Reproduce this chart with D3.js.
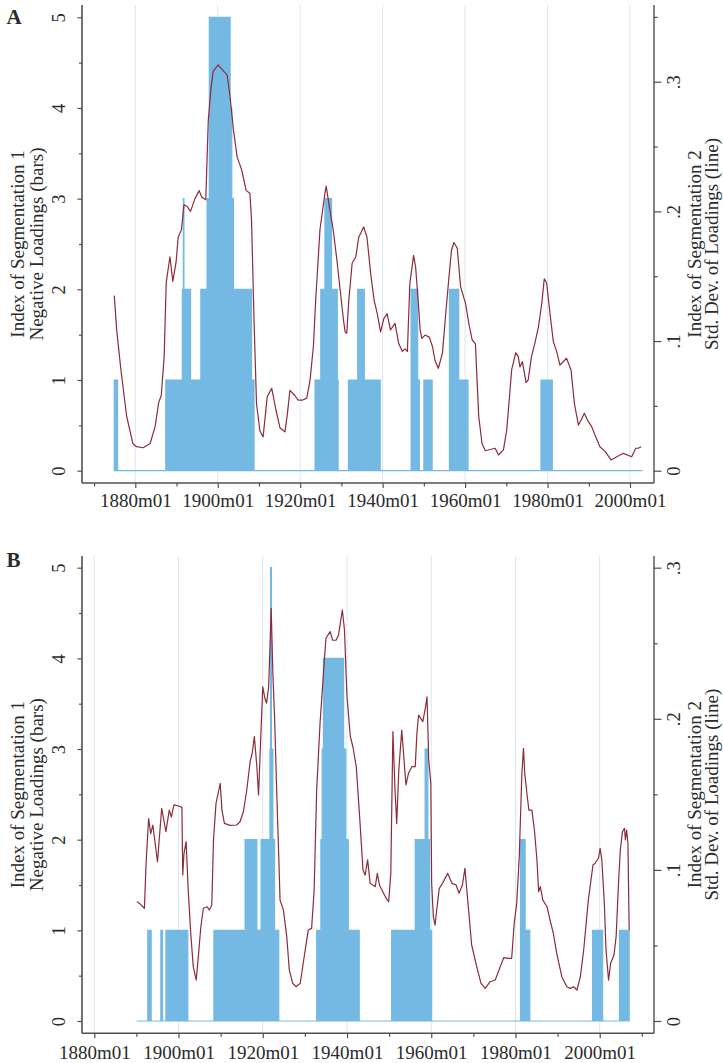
<!DOCTYPE html>
<html>
<head>
<meta charset="utf-8">
<script src="https://cdn.jsdelivr.net/npm/d3@7"></script>
<style>
  body { margin: 0; background: #fff; }
  svg { display: block; }
  text { font-family: "Liberation Serif", "Times New Roman", serif; fill: #2b2b2b; }
</style>
</head>
<body>
<svg id="viz" width="723" height="1063"></svg>
<script>
// ---- data (decimal years) ----
var majorYears = [1880, 1900, 1920, 1940, 1960, 1980, 2000];
var minorYearsA = [1870, 1890, 1910, 1930, 1950, 1970, 1990];
var minorYearsB = [1890, 1910, 1930, 1950, 1970, 1990, 2010];
var leftTicks = [0, 1, 2, 3, 4, 5];
var leftMinor = [0.5, 1.5, 2.5, 3.5, 4.5];
var rightTicksA = [0, 0.1, 0.2, 0.3];
var rightMinorA = [0.05, 0.15, 0.25, 0.35];
var rightTicksB = [0, 0.1, 0.2, 0.3];
var rightMinorB = [0.05, 0.15, 0.25];

// bars: step starts and the index value held from that point on (last entry = end of series)
var barsATimes = [1874.9, 1875.7, 1887.4, 1891.4, 1891.65, 1891.8, 1893.4, 1895.9, 1897.4, 1897.95, 1903.0, 1903.4, 1903.8, 1908.2, 1908.8,
  1923.6, 1925.0, 1926.0, 1927.6, 1929.0, 1929.2, 1931.7, 1933.95, 1935.55, 1939.4, 1946.9, 1948.5, 1948.9, 1950.0, 1952.0,
  1956.2, 1958.45, 1960.7, 1978.4, 1981.15, 2003.0];
var barsAValues = [1, 0, 1, 2, 3, 2, 1, 2, 3, 5, 4, 3, 2, 1, 0,
  1, 2, 3, 2, 1, 0, 1, 2, 1, 0, 2, 1, 0, 1, 0,
  2, 1, 0, 1, 0, 0];

var barsBTimes = [1890.1, 1892.7, 1893.5, 1895.8, 1896.2, 1897.0, 1902.2, 1908.4, 1915.8, 1918.6, 1919.6, 1921.7, 1921.85, 1922.05, 1922.4, 1922.8, 1923.8,
  1932.8, 1933.8, 1934.1, 1934.4, 1939.2, 1939.7, 1940.3, 1942.9, 1950.6, 1956.2, 1958.55, 1959.2, 1959.6, 1960.1,
  1981.2, 1982.3, 1983.4, 1998.3, 2000.7, 2004.7, 2007.0];
var barsBValues = [0, 1, 0, 1, 0, 1, 0, 1, 2, 1, 2, 3, 5, 3, 2, 1, 0,
  1, 2, 3, 4, 3, 2, 1, 0, 1, 2, 3, 2, 1, 0,
  2, 1, 0, 1, 0, 1, 0];

// line: std. dev. of loadings
var lineA = [[1874.9,.135],[1875.5,.108],[1876.5,.078],[1877.9,.042],[1879.4,.021],[1880.3,.0185],[1881.9,.0177],[1883.6,.021],
  [1884.8,.034],[1885.7,.053],[1886.3,.058],[1887.0,.088],[1887.5,.145],[1888.4,.165],[1889.1,.146],[1889.9,.161],[1890.4,.180],
  [1891.2,.186],[1891.8,.205],[1892.5,.204],[1893.4,.200],[1894.5,.210],[1895.5,.216],[1896.1,.211],[1897.1,.209],[1897.7,.270],
  [1898.4,.296],[1898.9,.308],[1900.1,.313],[1901.2,.309],[1902.3,.305],[1903.0,.288],[1903.8,.263],[1904.7,.242],[1905.8,.232],
  [1906.9,.216],[1907.8,.214],[1908.2,.193],[1908.8,.116],[1909.4,.052],[1910.2,.031],[1911.0,.026],[1912.0,.057],[1913.1,.0635],
  [1914.1,.047],[1915.1,.033],[1916.3,.030],[1916.9,.044],[1917.5,.062],[1918.7,.058],[1919.5,.0545],[1920.6,.0545],[1921.6,.056],
  [1922.4,.070],[1923.2,.096],[1923.8,.134],[1924.8,.186],[1926.0,.214],[1926.3,.2195],[1927.2,.201],[1928.0,.186],[1928.9,.1625],
  [1930.5,.116],[1930.9,.107],[1931.3,.106],[1931.8,.132],[1932.6,.160],[1933.5,.165],[1934.2,.180],[1935.4,.188],[1936.2,.180],
  [1937.1,.152],[1937.9,.132],[1938.7,.121],[1939.5,.107],[1940.3,.1175],[1941.1,.121],[1941.9,.1085],[1943.0,.1136],[1943.9,.098],
  [1944.8,.092],[1945.4,.094],[1946.0,.092],[1946.6,.1445],[1947.5,.166],[1948.0,.157],[1948.6,.132],[1949.1,.1085],[1949.5,.102],
  [1950.3,.1046],[1951.3,.103],[1952.1,.0956],[1952.7,.085],[1953.5,.079],[1954.5,.0905],[1955.3,.121],[1956.1,.150],[1956.7,.170],
  [1957.3,.176],[1958.1,.1715],[1958.9,.142],[1960.1,.129],[1960.9,.1136],[1961.7,.101],[1962.5,.098],[1963.3,.042],[1964.1,.021],
  [1964.9,.0154],[1967.3,.0173],[1968.1,.0121],[1969.3,.016],[1970.1,.0314],[1971.3,.078],[1972.3,.091],[1972.9,.088],[1973.3,.080],
  [1973.9,.084],[1974.8,.068],[1975.3,.070],[1976.1,.088],[1976.9,.098],[1977.8,.111],[1978.6,.129],[1979.2,.148],[1979.8,.1445],
  [1980.6,.121],[1981.4,.0995],[1982.2,.092],[1983.0,.0815],[1983.8,.084],[1984.6,.0867],[1985.7,.0776],[1986.5,.052],[1987.5,.0352],
  [1988.3,.040],[1988.9,.0443],[1989.9,.0378],[1990.7,.034],[1991.5,.0275],[1992.7,.0185],[1994.0,.0147],[1995.4,.0083],
  [1996.8,.0108],[1998.4,.0134],[2000.4,.0108],[2001.4,.0173],[2002.0,.0173],[2002.7,.0185]];

var lineB = [[1890.1,.079],[1890.9,.0774],[1891.9,.0746],[1892.3,.1044],[1892.9,.134],[1893.4,.124],[1893.9,.1297],[1895.0,.1054],
  [1896.0,.1408],[1897.0,.1253],[1897.8,.1396],[1898.3,.135],[1898.9,.143],[1900.0,.1423],[1900.8,.1414],[1901.0,.0966],[1901.3,.111],
  [1901.8,.1187],[1902.3,.0867],[1902.9,.058],[1903.5,.036],[1904.2,.0271],[1904.7,.0426],[1905.3,.0624],[1905.9,.0746],[1906.8,.0756],
  [1907.3,.0735],[1907.9,.0768],[1908.3,.1198],[1908.9,.144],[1909.9,.1573],[1910.3,.1396],[1910.9,.1308],[1912.2,.1295],[1913.8,.1297],
  [1914.6,.1319],[1915.4,.1385],[1916.2,.1529],[1917.0,.1716],[1917.5,.1772],[1918.0,.1882],[1918.6,.1683],[1919.0,.1496],[1919.5,.186],
  [1920.0,.2212],[1920.5,.2136],[1920.9,.2103],[1921.4,.2212],[1922.0,.2731],[1922.4,.230],[1922.8,.2014],[1923.3,.1529],[1923.8,.1087],
  [1924.1,.080],[1924.9,.0735],[1925.7,.0558],[1926.3,.0338],[1927.1,.025],[1927.9,.0227],[1928.9,.025],[1929.6,.0382],[1930.8,.0602],
  [1931.6,.0613],[1932.2,.0867],[1932.8,.1529],[1933.6,.197],[1934.4,.230],[1935.0,.2533],[1936.0,.2577],[1936.6,.252],[1937.4,.252],
  [1938.0,.2555],[1938.4,.2632],[1938.9,.272],[1939.4,.2588],[1940.0,.2146],[1940.8,.1882],[1941.4,.1815],[1942.2,.1683],[1943.0,.1352],
  [1943.8,.0999],[1944.3,.0966],[1944.9,.1066],[1945.5,.0911],[1946.1,.090],[1946.7,.0889],[1947.2,.0977],[1947.7,.090],[1948.5,.0856],
  [1949.3,.0812],[1949.9,.079],[1950.4,.0977],[1950.9,.1915],[1951.4,.1529],[1951.8,.1308],[1952.3,.1661],[1953.0,.1926],[1953.6,.1705],
  [1954.0,.1562],[1954.6,.1639],[1955.4,.1683],[1956.2,.1683],[1956.6,.1904],[1957.0,.2025],[1957.5,.2003],[1958.0,.1981],[1958.6,.207],
  [1959.0,.2146],[1959.4,.1727],[1959.9,.1573],[1960.1,.0911],[1960.5,.069],[1960.9,.0635],[1961.3,.0735],[1961.9,.0878],[1962.7,.0911],
  [1963.9,.0977],[1964.9,.0911],[1965.9,.090],[1966.6,.0845],[1967.4,.090],[1968.0,.101],[1968.8,.0756],[1969.6,.0503],[1970.8,.036],
  [1971.8,.025],[1972.8,.0216],[1974.0,.026],[1975.2,.0271],[1976.4,.036],[1977.2,.0419],[1978.3,.0415],[1979.1,.0415],[1979.7,.0647],
  [1980.3,.078],[1980.9,.1087],[1981.3,.144],[1981.5,.1628],[1981.9,.1805],[1982.2,.164],[1982.8,.1484],[1983.2,.1396],[1983.9,.1396],
  [1984.5,.1264],[1985.1,.1066],[1985.5,.0856],[1985.9,.0889],[1986.5,.080],[1987.5,.0756],[1988.3,.0657],[1989.0,.058],[1989.8,.0448],
  [1991.0,.0293],[1992.2,.0227],[1993.0,.0216],[1993.8,.0227],[1994.6,.0205],[1995.4,.0293],[1996.2,.047],[1997.3,.080],[1998.4,.1032],
  [1998.9,.1044],[1999.7,.1077],[2000.1,.1143],[2000.5,.1066],[2001.1,.078],[2001.5,.047],[2002.1,.0271],[2002.6,.0382],[2003.4,.0437],
  [2003.9,.0558],[2004.5,.0933],[2004.9,.1132],[2005.4,.1253],[2005.9,.1275],[2006.1,.1198],[2006.4,.1264],[2006.7,.1176],[2007.0,.0602]];

var leftTitle = ["Index of Segmentation 1", "Negative Loadings (bars)"];
var rightTitle = ["Index of Segmentation 2", "Std. Dev. of Loadings (line)"];

// ---- layout ----
var BAR_COLOR = "#74b9e4";
var LINE_COLOR = "#8b2c3b";
var GRID_COLOR = "#d8e9f0";
var AXIS_COLOR = "#505050";
var AX_LEFT = 82, AX_RIGHT = 654;

var panels = [
  { label: "A", top: 5, bottom: 483, x1880: 135.3, x2000: 630, y0: 470.7, y5: 17.3, yR3: 81.7,
    minor: minorYearsA, rTicks: rightTicksA, rMinor: rightMinorA, labelY: 24,
    barT: barsATimes, barV: barsAValues, line: lineA, xLabelOff: 23.5 },
  { label: "B", top: 556, bottom: 1033.3, x1880: 94.3, x2000: 599.7, y0: 1021, y5: 567.7, yR3: 567.7,
    minor: minorYearsB, rTicks: rightTicksB, rMinor: rightMinorB, labelY: 566.5,
    barT: barsBTimes, barV: barsBValues, line: lineB, xLabelOff: 26 }
];

var svg = d3.select("#viz");

function fmtRight(d){
  return d === 0 ? "0" : String(d).replace("0.", ".");
}

function drawPanel(p){
  var g = svg.append("g");
  var x = d3.scaleLinear().domain([1880, 2000]).range([p.x1880, p.x2000]);
  var yL = d3.scaleLinear().domain([0, 5]).range([p.y0, p.y5]);
  var yR = d3.scaleLinear().domain([0, 0.3]).range([p.y0, p.yR3]);

  // vertical grid lines
  g.append("g").selectAll("line").data(majorYears).enter().append("line")
    .attr("x1", d => x(d)).attr("x2", d => x(d))
    .attr("y1", p.top).attr("y2", p.bottom)
    .attr("stroke", GRID_COLOR).attr("stroke-width", 1);

  // bars as a step area
  var bars = p.barT.map((t, i) => ({ t: t, v: p.barV[i] }));
  var area = d3.area()
    .x(d => x(d.t))
    .y0(yL(0))
    .y1(d => yL(d.v))
    .curve(d3.curveStepAfter);
  g.append("path").datum(bars)
    .attr("d", area)
    .attr("fill", BAR_COLOR)
    .attr("stroke", BAR_COLOR)
    .attr("stroke-width", 1.2);

  // line on right axis
  var line = d3.line().x(d => x(d[0])).y(d => yR(d[1]));
  g.append("path").datum(p.line)
    .attr("d", line)
    .attr("fill", "none")
    .attr("stroke", LINE_COLOR)
    .attr("stroke-width", 1.2)
    .attr("stroke-linejoin", "round");

  // bottom axis
  var bx = g.append("g").attr("transform", "translate(0," + p.bottom + ")");
  bx.call(d3.axisBottom(x).tickValues(majorYears).tickFormat(d => d + "m01").tickSize(5).tickSizeOuter(0));
  bx.append("g").call(d3.axisBottom(x).tickValues(p.minor).tickFormat("").tickSize(3.5).tickSizeOuter(0))
    .select(".domain").remove();
  bx.select(".domain").remove();
  bx.append("line").attr("x1", AX_LEFT).attr("x2", AX_RIGHT).attr("stroke", AXIS_COLOR).attr("stroke-width", 1.5);
  bx.selectAll(".tick text").attr("y", p.xLabelOff).attr("dy", 0)
    .style("font-size", "19px").style("font-family", "Liberation Serif, serif").attr("fill", "#2b2b2b");

  // left axis
  var ly = g.append("g").attr("transform", "translate(" + AX_LEFT + ",0)");
  ly.call(d3.axisLeft(yL).tickValues(leftTicks).tickFormat(d3.format("d")).tickSize(4.5).tickSizeOuter(0));
  ly.append("g").call(d3.axisLeft(yL).tickValues(leftMinor).tickFormat("").tickSize(3).tickSizeOuter(0))
    .select(".domain").remove();
  ly.select(".domain").remove();
  ly.append("line").attr("y1", p.top).attr("y2", p.bottom).attr("stroke", AXIS_COLOR).attr("stroke-width", 1.6);
  ly.selectAll(".tick text")
    .attr("transform", "rotate(-90)")
    .attr("x", 0).attr("y", -17.5).attr("dy", 0)
    .attr("text-anchor", "middle")
    .style("font-size", "18.5px").style("font-family", "Liberation Serif, serif").attr("fill", "#2b2b2b");

  // right axis
  var ry = g.append("g").attr("transform", "translate(" + AX_RIGHT + ",0)");
  ry.call(d3.axisRight(yR).tickValues(p.rTicks).tickFormat(fmtRight).tickSize(7.5).tickSizeOuter(0));
  ry.append("g").call(d3.axisRight(yR).tickValues(p.rMinor).tickFormat("").tickSize(3.7).tickSizeOuter(0))
    .select(".domain").remove();
  ry.select(".domain").remove();
  ry.append("line").attr("y1", p.top).attr("y2", p.bottom).attr("stroke", "#333").attr("stroke-width", 1.2);
  ry.selectAll(".tick text")
    .attr("transform", "rotate(-90)")
    .attr("x", 0).attr("y", 25.5).attr("dy", 0)
    .attr("text-anchor", "middle")
    .style("font-size", "18.5px").style("font-family", "Liberation Serif, serif").attr("fill", "#2b2b2b");

  g.selectAll(".tick line").attr("stroke", AXIS_COLOR).attr("stroke-width", 1.2);

  // axis titles
  var midY = (p.top + p.bottom) / 2;
  leftTitle.forEach((t, i) => {
    g.append("text")
      .attr("transform", "translate(" + (24.3 + i * 19) + "," + midY + ") rotate(-90)")
      .attr("text-anchor", "middle")
      .style("font-size", "19px")
      .text(t);
  });
  rightTitle.forEach((t, i) => {
    g.append("text")
      .attr("transform", "translate(" + (700.5 + i * 17.5) + "," + midY + ") rotate(-90)")
      .attr("text-anchor", "middle")
      .style("font-size", "19px")
      .text(t);
  });

  // panel letter
  g.append("text")
    .attr("x", 6.5).attr("y", p.labelY)
    .style("font-size", "21px").style("font-weight", "bold")
    .text(p.label);
}

panels.forEach(drawPanel);
</script>
</body>
</html>
